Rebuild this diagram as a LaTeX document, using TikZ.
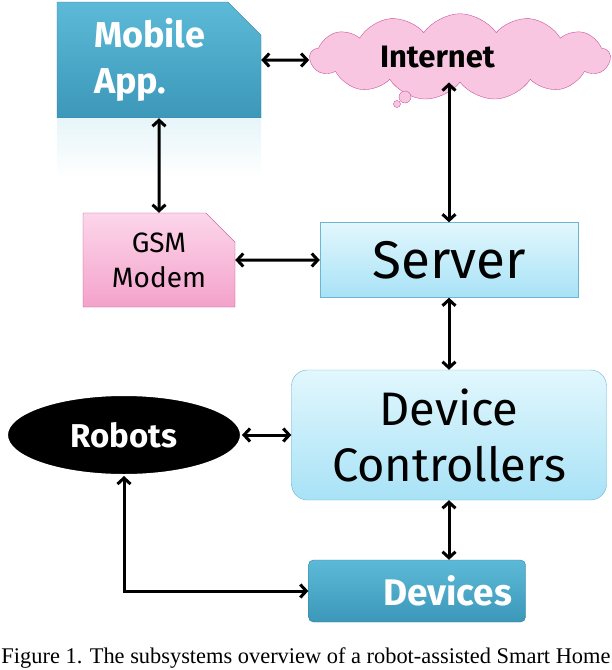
\documentclass[tikz,border=0pt]{standalone}
\usepackage{fontspec}
\setmainfont{Liberation Serif}
\newfontfamily\boxfont{Fira Sans}
\usetikzlibrary{shapes.geometric, shapes.misc, shapes.symbols, arrows, arrows.meta}

\definecolor{appTop}{HTML}{5CBAD8}
\definecolor{appBot}{HTML}{3C97B8}
\definecolor{appEdge}{HTML}{2F7F9C}
\definecolor{gsmTop}{HTML}{FCD6EA}
\definecolor{gsmBot}{HTML}{F4A2CB}
\definecolor{gsmEdge}{HTML}{B8478A}
\definecolor{srvTop}{HTML}{E2F7FD}
\definecolor{srvBot}{HTML}{A8E2F6}
\definecolor{srvEdge}{HTML}{6DB6D2}
\definecolor{netFill}{HTML}{F9C6E2}
\definecolor{netEdge}{HTML}{C9559B}

\tikzstyle{app} = [chamfered rectangle, chamfered rectangle corners=north east, chamfered rectangle xsep=30pt, minimum width=204pt, minimum height=116pt, top color=appTop, bottom color=appBot, draw=appEdge, text=white, text width=130pt, align=left, font=\boxfont\bfseries\fontsize{36}{46}\selectfont]
\tikzstyle{modem} = [chamfered rectangle, chamfered rectangle corners=north east, chamfered rectangle xsep=26pt, inner xsep=0pt, minimum width=152pt, minimum height=94pt, top color=gsmTop, bottom color=gsmBot, draw=gsmEdge, align=center, font=\boxfont\fontsize{28}{35}\selectfont]
\tikzstyle{internet} = [cloud, cloud puffs=13, cloud puff arc=110, aspect=4, minimum width=300pt, minimum height=72pt, fill=netFill, draw=netEdge, text width=160pt, align=left, font=\boxfont\bfseries\fontsize{31}{34}\selectfont]
\tikzstyle{server} = [rectangle, minimum width=258pt, minimum height=75pt, top color=srvTop, bottom color=srvBot, draw=srvEdge, font=\boxfont\fontsize{53}{56}\selectfont]
\tikzstyle{control} = [rectangle, rounded corners=16pt, minimum width=315pt, minimum height=130pt, top color=srvTop, bottom color=srvBot, draw=srvEdge, align=center, font=\boxfont\fontsize{47}{56}\selectfont]
\tikzstyle{robot} = [ellipse, minimum width=234pt, minimum height=80pt, fill=black, draw=white, line width=2pt, text=white, font=\boxfont\bfseries\fontsize{33}{36}\selectfont]
\tikzstyle{device} = [rectangle, rounded corners=5pt, minimum width=217pt, minimum height=62pt, top color=appTop, bottom color=appBot, draw=appEdge, text=white, text width=190pt, align=right, font=\boxfont\bfseries\fontsize{37}{40}\selectfont]
\tikzstyle{arrow} = [line width=3pt, <->, >={Straight Barb[length=6pt, width=13pt]}]

\begin{document}
\begin{tikzpicture}[x=1pt, y=-1pt, node distance=175pt]
\useasboundingbox (0,0) rectangle (612,670);

\node (server) [server] at (449,260) {Server};
\node (net) [internet, above of=server, yshift=28pt, xshift=11pt] {Internet};
\node (gsm) [modem, left of=server, xshift=-115pt] {GSM\\Modem};
\node (app) [app, above of=gsm, yshift=25pt] {Mobile\\App.};
\node (dc) [control, below of=server] {Device\\Controllers};
\node (robots) [robot, left of=dc, xshift=-150pt] {Robots};
\node (dev) [device, below of=dc, yshift=19pt, xshift=-32pt] {Devices};

% reflection under the app box and thought bubbles of the cloud
\fill [top color=appTop!15, bottom color=white] (app.south west) rectangle ([yshift=-60pt]app.south east);
\draw [fill=netFill, draw=netEdge] (405,97) circle (6pt);
\draw [fill=netFill, draw=netEdge] (397,104) circle (3.5pt);

\draw [arrow] (app) -- (app -| net.west);
\draw [arrow] (app) -- (gsm);
\draw [arrow] (gsm) -- (server);
\draw [arrow] (server.north) -- (server.north |- net.south);
\draw [arrow] (server.south) -- (server.south |- dc.north);
\draw [arrow] (robots) -- (dc);
\draw [arrow] (dc.south) -- (dc.south |- dev.north);
\draw [arrow] (robots.south) |- (dev.west);

\node (caption) at (306,658) {\fontsize{22.4}{26}\selectfont Figure 1. The subsystems overview of a robot-assisted Smart Home};

\end{tikzpicture}
\end{document}
